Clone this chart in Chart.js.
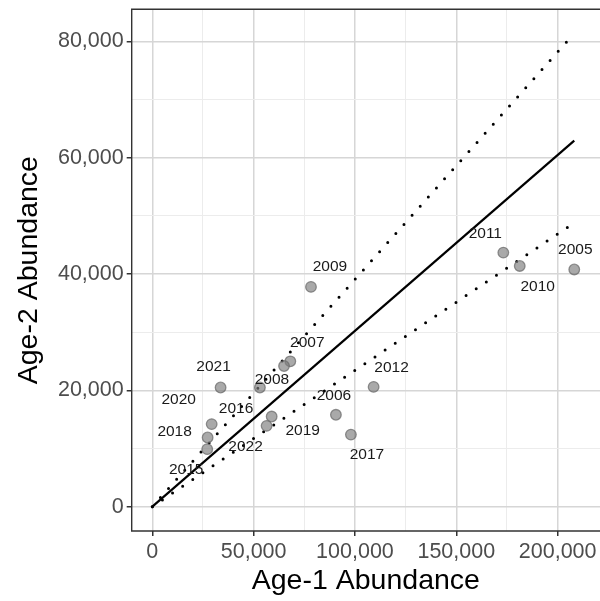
<!DOCTYPE html>
<html>
<head>
<meta charset="utf-8">
<script src="https://cdn.jsdelivr.net/npm/chart.js@4.4.1/dist/chart.umd.min.js"></script>
<style>
  html, body { margin: 0; padding: 0; background: #fff; overflow: hidden; }
  #wrap { width: 600px; height: 601px; }
  canvas { display: block; }
</style>
</head>
<body>
<div id="wrap"><canvas id="chart"></canvas></div>
<script>
// Age-1 vs age-2 abundance per year class
const years = [2005, 2006, 2007, 2008, 2009, 2010, 2011, 2012,
               2015, 2016, 2017, 2018, 2019, 2020, 2021, 2022]
const age1 = [208200, 90600, 68100, 53100, 78300, 181300, 173200, 109200,
              27100, 65000, 98000, 27300, 58900, 29300, 33700, 56400]
const age2 = [40800, 15800, 25000, 20500, 37800, 41400, 43700, 20600,
              9900, 24200, 12400, 11900, 15500, 14200, 20500, 13900]

// Regression through the origin and its bounds
const lineX = [0, 208200]
const fitY = [0, 62960]
const upperY = [0, 81400]
const lowerY = [0, 48820]

// Axis ticks (major are labelled, minor only get a grid line)
const xTicks = [0, 50000, 100000, 150000, 200000]
const xMinor = [25000, 75000, 125000, 175000]
const yTicks = [0, 20000, 40000, 60000, 80000]
const yMinor = [10000, 30000, 50000, 70000]

const FONT = "'Liberation Sans', Arial, Helvetica, sans-serif"

// label offsets (px) from each point, keyed by year
const labelOffset = {
  2005: [1, -20], 2006: [-2, -19], 2007: [17, -19], 2008: [12, -8],
  2009: [19, -20], 2010: [18, 21], 2011: [-18, -19], 2012: [18, -19],
  2015: [-21, 21], 2016: [-48, 43], 2017: [16, 20], 2018: [-33, -6],
  2019: [31, 14], 2020: [-33, -24], 2021: [-7, -21], 2022: [-21, 21],
}

const toXY = (xs, ys) => xs.map((x, i) => ({ x: x, y: ys[i] }))

const yearLabels = {
  id: "yearLabels",
  afterDatasetsDraw(chart) {
    const { ctx, scales } = chart
    ctx.save()
    ctx.font = `15.5px ${FONT}`
    ctx.fillStyle = "#1a1a1a"
    ctx.textAlign = "center"
    ctx.textBaseline = "middle"
    years.forEach((yr, i) => {
      const off = labelOffset[yr] || [0, -18]
      const px = scales.x.getPixelForValue(age1[i])
      const py = scales.y.getPixelForValue(age2[i])
      ctx.fillText(String(yr), px + off[0], py + off[1])
    })
    ctx.restore()
  },
}

// panel frame: left, top and bottom (right side runs off the canvas)
const panelFrame = {
  id: "panelFrame",
  afterDraw(chart) {
    const { ctx, chartArea: a } = chart
    ctx.save()
    ctx.strokeStyle = "#333"
    ctx.lineWidth = 1.4
    ctx.beginPath()
    ctx.moveTo(a.right + 2, a.top)
    ctx.lineTo(a.left, a.top)
    ctx.lineTo(a.left, a.bottom)
    ctx.lineTo(a.right + 2, a.bottom)
    ctx.stroke()
    ctx.restore()
  },
}

function tickSetup(major, minor) {
  return (axis) => {
    axis.ticks = [...major, ...minor].sort((a, b) => a - b).map((v) => ({ value: v }))
  }
}

// no extra room for edge labels, the panel is laid out by hand
const noPadding = () => ({ left: 0, top: 0, right: 0, bottom: 0 })

const dotted = {
  borderColor: "#000",
  borderWidth: 3,
  borderDash: [0, 12.2],
  borderCapStyle: "round",
  pointRadius: 0,
  showLine: true,
  fill: false,
}

new Chart(document.getElementById("chart"), {
  type: "scatter",
  data: {
    datasets: [
      {
        label: "Abundance",
        data: toXY(age1, age2),
        pointRadius: 5.3,
        pointBorderWidth: 1.3,
        backgroundColor: "rgba(125,125,125,0.66)",
        borderColor: "rgba(105,105,105,0.72)",
      },
      {
        label: "Fit",
        data: toXY(lineX, fitY),
        showLine: true,
        borderColor: "#000",
        borderWidth: 2.2,
        pointRadius: 0,
      },
      { label: "Upper", data: toXY(lineX, upperY), ...dotted },
      { label: "Lower", data: toXY(lineX, lowerY), ...dotted },
    ],
  },
  options: {
    responsive: true,
    maintainAspectRatio: false,
    animation: false,
    layout: { autoPadding: false, padding: { top: 9.3, right: 0, bottom: 0, left: 0 } },
    plugins: {
      legend: { display: false },
      tooltip: { enabled: false },
    },
    scales: {
      x: {
        type: "linear",
        min: -10160,
        max: 220900,
        afterBuildTicks: tickSetup(xTicks, xMinor),
        afterFit: (axis) => {
          axis.height = 70
          axis.paddingLeft = axis.paddingRight = 0
          axis.getPadding = noPadding
        },
        border: { display: false },
        grid: {
          color: (c) => (xTicks.includes(c.tick.value) ? "#d6d6d6" : "#ececec"),
          lineWidth: (c) => (xTicks.includes(c.tick.value) ? 1.5 : 1),
          tickColor: (c) => (xTicks.includes(c.tick.value) ? "#333" : "rgba(0,0,0,0)"),
          tickLength: 5,
          tickWidth: 1.5,
        },
        ticks: {
          autoSkip: false,
          maxRotation: 0,
          padding: 3,
          color: "#4d4d4d",
          font: { family: FONT, size: 21.5 },
          callback: (v) => (xTicks.includes(v) ? v.toLocaleString("en-US") : ""),
        },
        title: {
          display: true,
          text: "Age-1 Abundance",
          color: "#000",
          font: { family: FONT, size: 28.5 },
          padding: { top: 0, bottom: 3 },
        },
      },
      y: {
        type: "linear",
        min: -4180,
        max: 85540,
        afterBuildTicks: tickSetup(yTicks, yMinor),
        afterFit: (axis) => {
          axis.width = 131.7
          axis.paddingTop = axis.paddingBottom = 0
          axis.getPadding = noPadding
        },
        border: { display: false },
        grid: {
          color: (c) => (yTicks.includes(c.tick.value) ? "#d6d6d6" : "#ececec"),
          lineWidth: (c) => (yTicks.includes(c.tick.value) ? 1.5 : 1),
          tickColor: (c) => (yTicks.includes(c.tick.value) ? "#333" : "rgba(0,0,0,0)"),
          tickLength: 5,
          tickWidth: 1.5,
        },
        ticks: {
          autoSkip: false,
          padding: 3,
          color: "#4d4d4d",
          font: { family: FONT, size: 21.5 },
          callback: (v) => (yTicks.includes(v) ? v.toLocaleString("en-US") : ""),
        },
        title: {
          display: true,
          text: "Age-2 Abundance",
          color: "#000",
          font: { family: FONT, size: 28.5 },
          padding: { top: 12, bottom: 0 },
        },
      },
    },
  },
  plugins: [yearLabels, panelFrame],
})
</script>
</body>
</html>
